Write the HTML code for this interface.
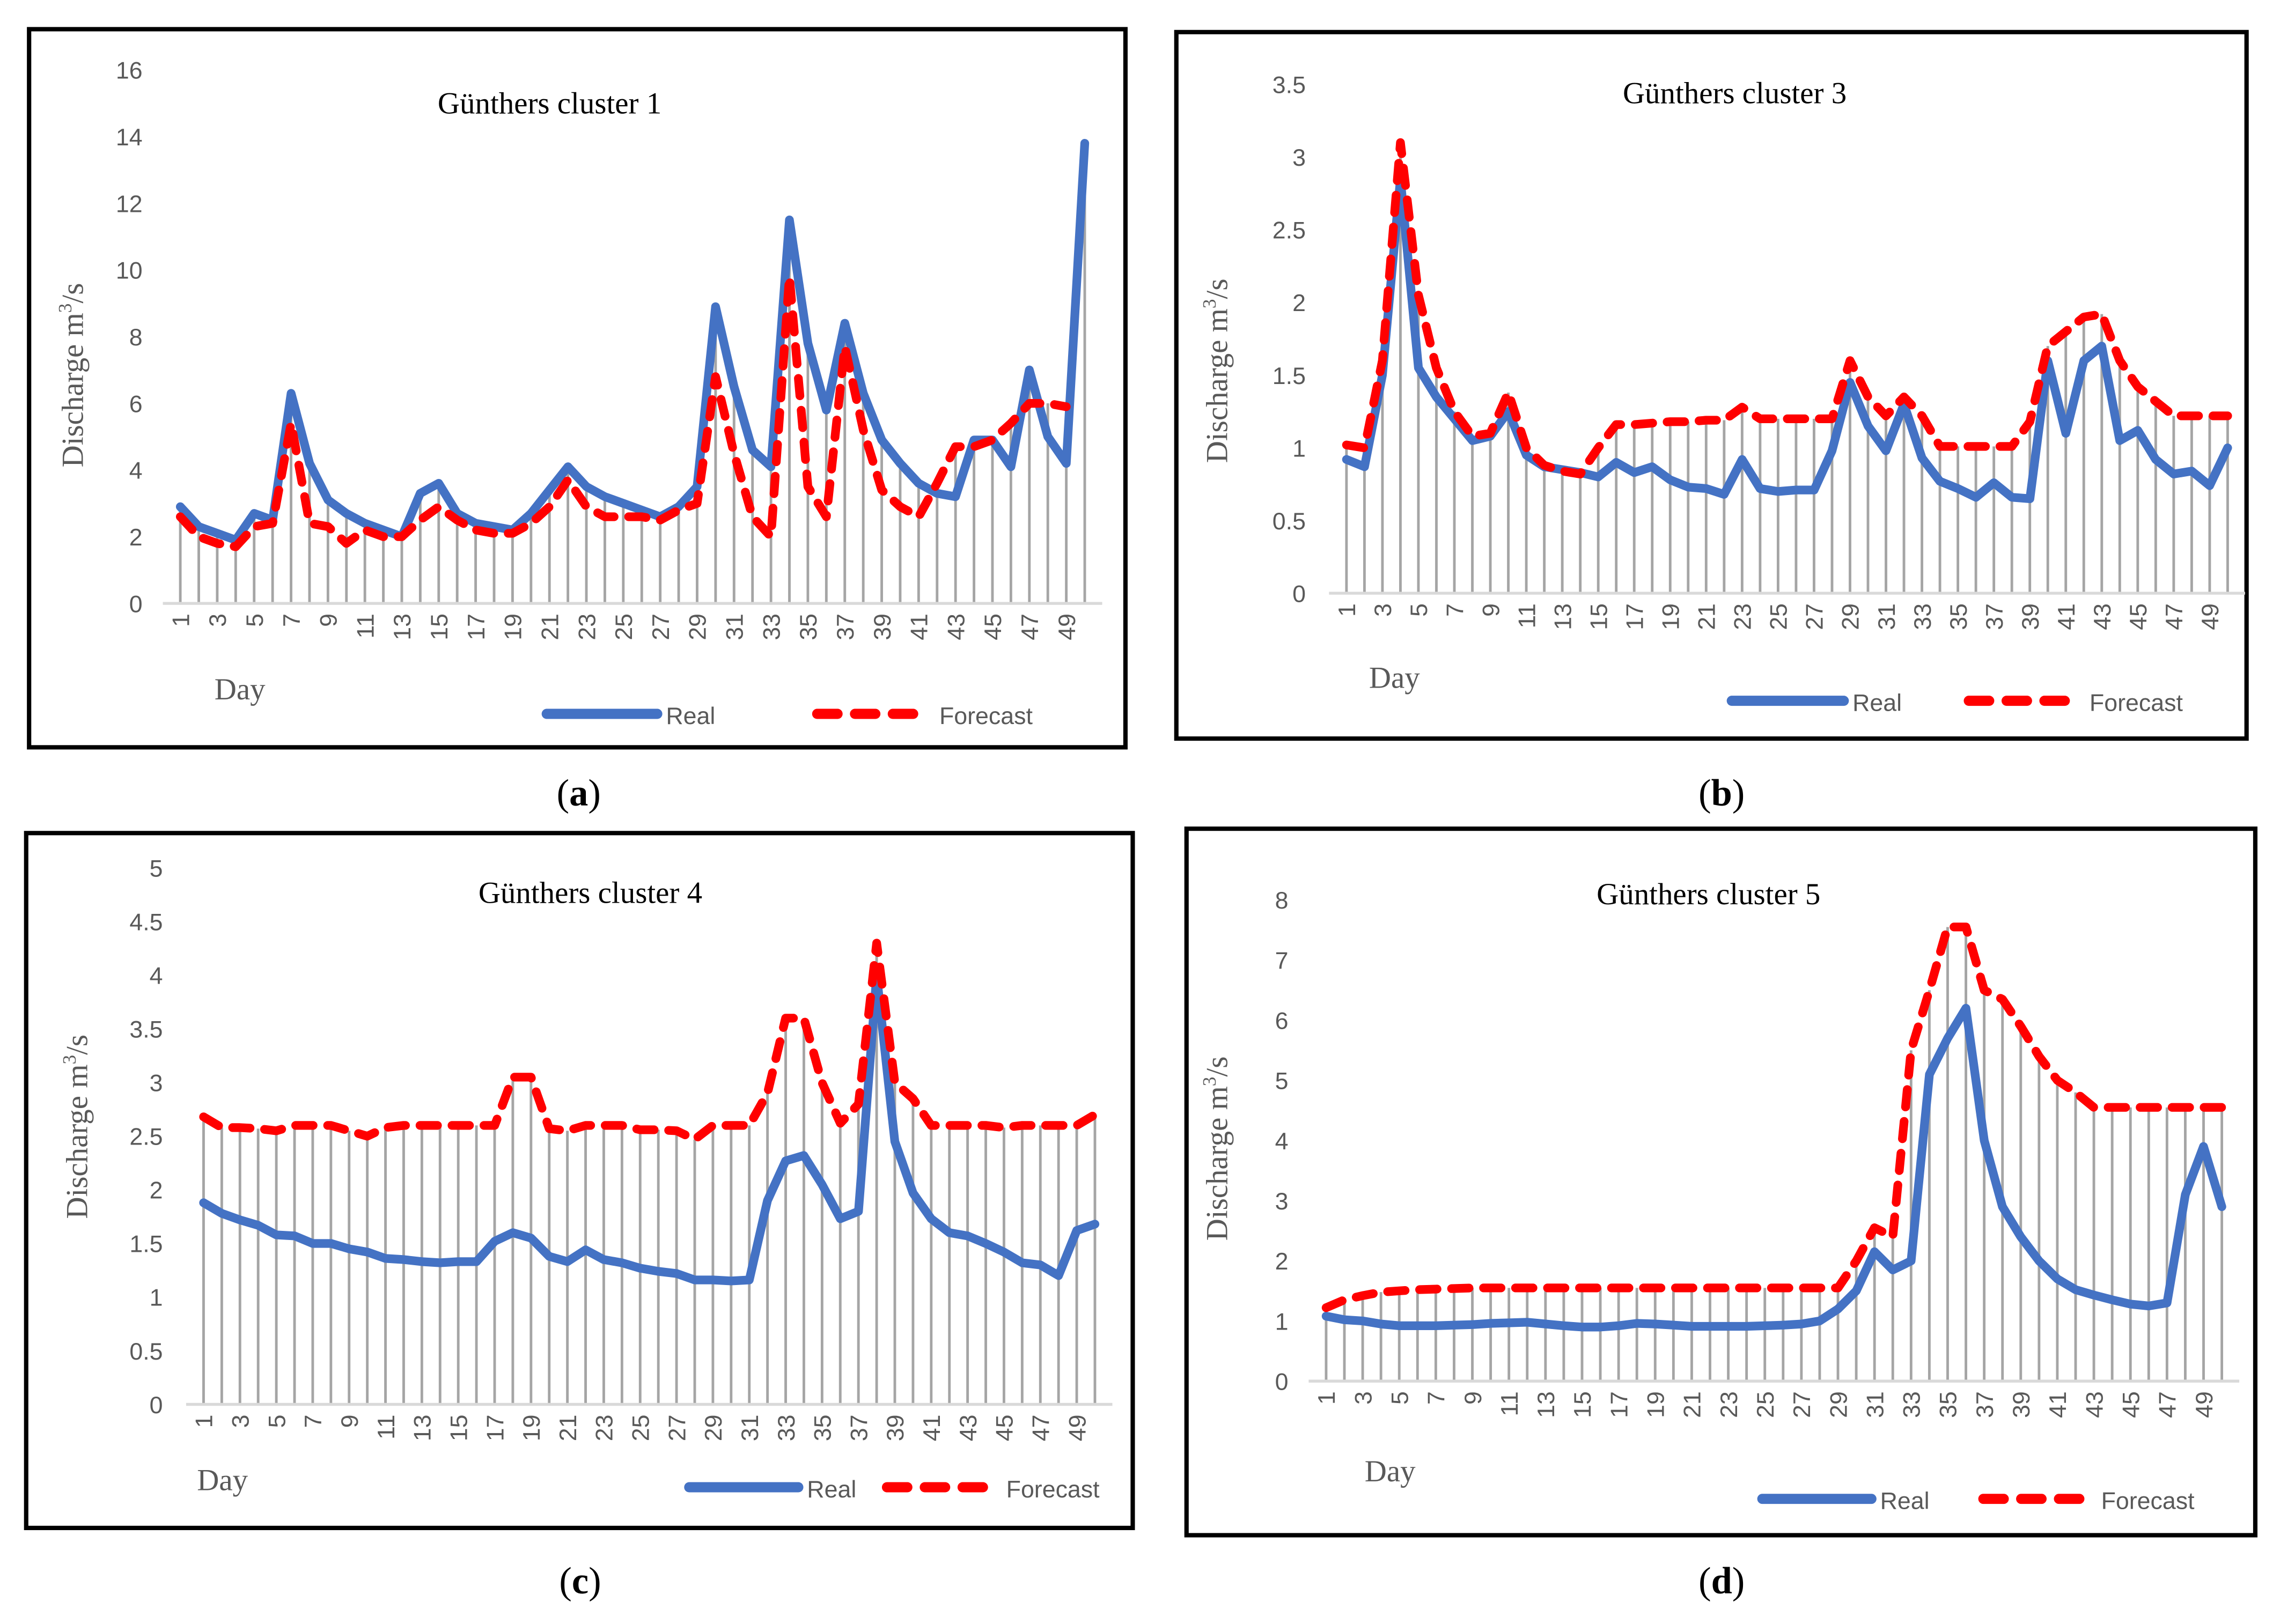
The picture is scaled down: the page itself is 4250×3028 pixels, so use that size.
<!DOCTYPE html>
<html><head><meta charset="utf-8">
<style>
html,body{margin:0;padding:0;background:#fff;}
svg{display:block;}
.tick{font-family:"Liberation Sans",sans-serif;font-size:16.5px;fill:#595959;}
.serif{font-family:"Liberation Serif",serif;}
</style></head>
<body>
<svg id="fig" width="4250" height="3028" viewBox="0 0 1568 1117" xmlns="http://www.w3.org/2000/svg"></svg>
<script>
const days = Array.from({length:50},(_,i)=>i+1);
const realA = [2.9,2.3,2.1,1.9,2.7,2.5,6.3,4.2,3.1,2.7,2.4,2.2,2.0,3.3,3.6,2.7,2.4,2.3,2.2,2.7,3.4,4.1,3.5,3.2,3.0,2.8,2.6,2.9,3.5,8.9,6.5,4.6,4.1,11.5,7.8,5.8,8.4,6.3,4.9,4.2,3.6,3.3,3.2,4.9,4.9,4.1,7.0,5.0,4.2,13.8];
const foreA = [2.6,2.0,1.8,1.7,2.3,2.4,5.4,2.4,2.3,1.8,2.2,2.0,2.0,2.5,2.9,2.5,2.2,2.1,2.1,2.4,2.9,3.7,2.9,2.6,2.6,2.6,2.5,2.8,3.0,6.8,4.5,2.6,2.0,9.8,3.5,2.6,7.7,5.2,3.4,2.9,2.6,3.6,4.7,4.7,4.9,5.4,6.0,6.0,5.9,null];
const realB = [0.92,0.87,1.5,2.85,1.55,1.35,1.2,1.05,1.08,1.25,0.95,0.87,0.85,0.83,0.8,0.9,0.83,0.87,0.78,0.73,0.72,0.68,0.92,0.72,0.7,0.71,0.71,0.98,1.45,1.15,0.98,1.3,0.93,0.77,0.72,0.66,0.76,0.66,0.65,1.6,1.1,1.6,1.7,1.05,1.12,0.92,0.82,0.84,0.74,1.0];
const foreB = [1.02,1.0,1.6,3.1,2.05,1.55,1.25,1.08,1.1,1.38,1.0,0.88,0.84,0.82,1.0,1.16,1.16,1.17,1.18,1.18,1.19,1.19,1.28,1.2,1.2,1.2,1.2,1.2,1.6,1.35,1.22,1.35,1.22,1.01,1.01,1.01,1.01,1.01,1.18,1.7,1.8,1.9,1.92,1.6,1.42,1.32,1.22,1.22,1.22,1.22];
const realC = [1.88,1.78,1.72,1.67,1.58,1.57,1.5,1.5,1.45,1.42,1.36,1.35,1.33,1.32,1.33,1.33,1.52,1.6,1.55,1.38,1.33,1.44,1.35,1.32,1.27,1.24,1.22,1.16,1.16,1.15,1.16,1.9,2.27,2.32,2.05,1.73,1.8,4.0,2.45,1.97,1.73,1.6,1.57,1.5,1.42,1.32,1.3,1.2,1.62,1.68];
const foreC = [2.68,2.58,2.58,2.57,2.55,2.6,2.6,2.6,2.55,2.5,2.58,2.6,2.6,2.6,2.6,2.6,2.6,3.05,3.05,2.57,2.55,2.6,2.6,2.6,2.56,2.56,2.55,2.47,2.6,2.6,2.6,2.9,3.6,3.6,3.0,2.62,2.8,4.3,3.0,2.85,2.6,2.6,2.6,2.6,2.58,2.6,2.6,2.6,2.6,2.7];
const realD = [1.08,1.02,1.0,0.95,0.92,0.92,0.92,0.93,0.94,0.96,0.97,0.98,0.95,0.92,0.9,0.9,0.92,0.96,0.95,0.93,0.91,0.91,0.91,0.91,0.92,0.93,0.95,1.0,1.2,1.5,2.15,1.85,2.0,5.1,5.7,6.2,4.0,2.9,2.4,2.0,1.7,1.52,1.43,1.35,1.28,1.25,1.3,3.1,3.9,2.9];
const foreD = [1.22,1.35,1.42,1.48,1.5,1.52,1.53,1.54,1.55,1.55,1.55,1.55,1.55,1.55,1.55,1.55,1.55,1.55,1.55,1.55,1.55,1.55,1.55,1.55,1.55,1.55,1.55,1.55,1.55,2.0,2.55,2.4,5.5,6.5,7.55,7.55,6.5,6.35,5.9,5.4,5.0,4.8,4.55,4.55,4.55,4.55,4.55,4.55,4.55,4.55];
const ticksA = [0,2,4,6,8,10,12,14,16];
const ticksB = [0,0.5,1,1.5,2,2.5,3,3.5];
const ticksC = [0,0.5,1,1.5,2,2.5,3,3.5,4,4.5,5];
const ticksD = [0,1,2,3,4,5,6,7,8];

const NS="http://www.w3.org/2000/svg";
const svg=document.getElementById('fig');
function mk(tag,attrs,parent){const e=document.createElementNS(NS,tag);for(const k in attrs)e.setAttribute(k,attrs[k]);(parent||svg).appendChild(e);return e;}

function chart(p){
  const g=mk('g',{});
  
  
  const box=mk('rect',{x:p.box[0],y:p.box[1],width:p.box[2]-p.box[0],height:p.box[3]-p.box[1],fill:'#fff',stroke:'#000','stroke-width':3},g);
  
  
  const ymax=p.ticks[p.ticks.length-1];
  const Y=v=>p.y0-(v/ymax)*(p.y0-p.yTop);
  const X=d=>p.x1+(d-1)*(p.x50-p.x1)/49;
  p.ticks.forEach(t=>{
    const tx=mk('text',{x:p.yLabX,y:Y(t)+6,'text-anchor':'end',class:'tick'},g);
    tx.textContent=String(t);
    
    
  });
  days.forEach((d,i)=>{
    const top=Math.max(p.real[i]==null?0:p.real[i],p.fore[i]==null?0:p.fore[i]);
    const l=mk('line',{x1:X(d),x2:X(d),y1:p.y0,y2:Y(top),stroke:'#A5A5A5','stroke-width':1.8},g);
    
    
  });
  const ax=mk('line',{x1:X(1)-12,x2:X(50)+12,y1:p.y0,y2:p.y0,stroke:'#D9D9D9','stroke-width':2},g);
  
  
  days.forEach(d=>{
    if(d%2===0)return;
    const tx=mk('text',{x:0,y:0,'text-anchor':'end',class:'tick',transform:`translate(${X(d)+6},${p.y0+7}) rotate(-90)`},g);
    tx.textContent=String(d);
    
    
  });
  const pts=arr=>arr.map((v,i)=>v==null?null:`${X(days[i]).toFixed(1)},${Y(v).toFixed(1)}`).filter(s=>s).join(' ');
  const rl=mk('polyline',{points:pts(p.real),fill:'none',stroke:'#4472C4','stroke-width':6,'stroke-linejoin':'round','stroke-linecap':'round'},g);
  
  
  const fl=mk('polyline',{points:pts(p.fore),fill:'none',stroke:'#FF0000','stroke-width':6,'stroke-dasharray':'12 10','stroke-linejoin':'round','stroke-linecap':'round'},g);
  
  
  const ti=mk('text',{x:p.title[0],y:p.title[1],'text-anchor':'middle',class:'serif','font-size':21,fill:'#000'},g);
  ti.textContent=p.titleText;
  
  
  const yt=mk('text',{x:0,y:0,'text-anchor':'middle',class:'serif','font-size':21,fill:'#595959',transform:`translate(${p.ytitle[0]},${p.ytitle[1]}) rotate(-90)`},g);
  yt.innerHTML='Discharge m<tspan dy="-8" font-size="13">3</tspan><tspan dy="8">/s</tspan>';
  
  
  const dy=mk('text',{x:p.day[0],y:p.day[1],'text-anchor':'middle',class:'serif','font-size':21,fill:'#595959'},g);
  dy.textContent='Day';
  
  
  const L=p.leg;
  const lr=mk('line',{x1:L[0],x2:L[1],y1:L[4],y2:L[4],stroke:'#4472C4','stroke-width':7,'stroke-linecap':'round'},g);
  
  
  const lrt=mk('text',{x:L[1]+6,y:L[4]+7,class:'tick','font-size':19},g);
  lrt.textContent='Real';
  
  
  const lf=mk('line',{x1:L[2],x2:L[3],y1:L[4],y2:L[4],stroke:'#FF0000','stroke-width':7,'stroke-dasharray':'14 12','stroke-linecap':'round'},g);
  
  
  const lft=mk('text',{x:L[3]+14,y:L[4]+7,class:'tick','font-size':19},g);
  lft.textContent='Forecast';
  
  
  const cap=mk('text',{x:p.cap[0],y:p.cap[1],'text-anchor':'middle',class:'serif','font-size':26,fill:'#000'},g);
  cap.innerHTML='(<tspan font-weight="bold">'+p.capText+'</tspan>)';
  
  
}

chart({id:'chart-cluster-1',box:[20,20,774,514],y0:415,yTop:48,x1:124,x50:746,ticks:ticksA,real:realA,fore:foreA,yLabX:98,
  title:[378,78],titleText:'Günthers cluster 1',ytitle:[57,258],day:[165,481],leg:[376,452,562,632,491],cap:[398,554],capText:'a'});
chart({id:'chart-cluster-3',box:[809,22,1545,508],y0:408,yTop:58,x1:926,x50:1532,ticks:ticksB,real:realB,fore:foreB,yLabX:898,
  title:[1193,71],titleText:'Günthers cluster 3',ytitle:[844,255],day:[959,473],leg:[1191,1268,1354,1423,482],cap:[1184,554],capText:'b'});
chart({id:'chart-cluster-4',box:[18,573,779,1051],y0:966,yTop:597,x1:140,x50:753,ticks:ticksC,real:realC,fore:foreC,yLabX:112,
  title:[406,621],titleText:'Günthers cluster 4',ytitle:[60,775],day:[153,1025],leg:[474,549,610,678,1023],cap:[399,1096],capText:'c'});
chart({id:'chart-cluster-5',box:[816,570,1551,1056],y0:950,yTop:619,x1:912,x50:1528,ticks:ticksD,real:realD,fore:foreD,yLabX:886,
  title:[1175,622],titleText:'Günthers cluster 5',ytitle:[844,790],day:[956,1019],leg:[1212,1287,1364,1431,1031],cap:[1184,1096],capText:'d'});
</script>
</body></html>
